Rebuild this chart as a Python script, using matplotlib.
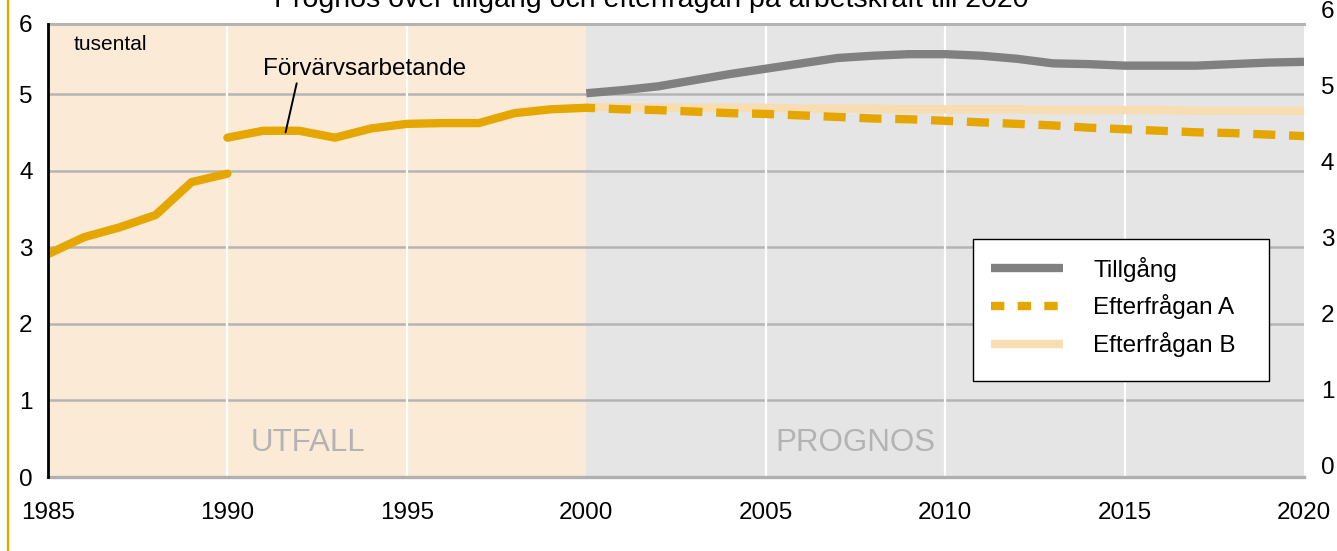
import matplotlib
matplotlib.use("Agg")
import matplotlib.pyplot as plt
from matplotlib.lines import Line2D
from matplotlib.patches import Rectangle

plt.rcParams['font.family'] = ['Liberation Sans', 'DejaVu Sans']

# ---- data (tusental) ----
years_hist1 = [1985, 1986, 1987, 1988, 1989, 1990]
forv_hist1 = [2.91, 3.13, 3.26, 3.42, 3.85, 3.96]
years_hist2 = [1990, 1991, 1992, 1993, 1994, 1995, 1996, 1997, 1998, 1999, 2000]
forv_hist2 = [4.43, 4.52, 4.52, 4.43, 4.55, 4.61, 4.62, 4.62, 4.75, 4.80, 4.82]
prog_years = list(range(2000, 2021))
tillgang = [5.01, 5.05, 5.10, 5.18, 5.26, 5.33, 5.40, 5.47, 5.50, 5.52, 5.52,
            5.50, 5.46, 5.40, 5.39, 5.37, 5.37, 5.37, 5.39, 5.41, 5.42]
efterfragan_a = [4.82, 4.80, 4.79, 4.77, 4.75, 4.74, 4.72, 4.70, 4.68, 4.67, 4.65,
                 4.63, 4.61, 4.59, 4.56, 4.54, 4.52, 4.50, 4.49, 4.47, 4.45]
efterfragan_b = [4.83, 4.83, 4.82, 4.82, 4.82, 4.82, 4.81, 4.81, 4.81, 4.80, 4.80,
                 4.80, 4.80, 4.79, 4.79, 4.79, 4.79, 4.78, 4.78, 4.78, 4.78]
x_ticks = [1985, 1990, 1995, 2000, 2005, 2010, 2015, 2020]
y_tick_labels = ['0', '1', '2', '3', '4', '5', '6']
legend_labels = ['Tillgång', 'Efterfrågan A', 'Efterfrågan B']
title = 'Prognos över tillgång och efterfrågan på arbetskraft till 2020'

ORANGE = '#E5A600'
LIGHT = '#F7DDB0'
GREY = '#808080'
BEIGE = '#FBEBD6'
BGGREY = '#E5E5E5'
GRID = '#B4B4B4'
FS = 17.5
LW = 6.0

W, H = 1337, 551
def fx(px):
    return px / W
def fy(py):
    return 1 - py / H

fig = plt.figure(figsize=(W / 100, H / 100), dpi=100)
ax = fig.add_axes([fx(48), fy(477), fx(1304) - fx(48), fy(24) - fy(477)])
YMAX = (477 - 24) / 76.6
ax.set_xlim(1985, 2020)
ax.set_ylim(0, YMAX)

ax.axvspan(1985, 2000, color=BEIGE, lw=0, zorder=0)
ax.axvspan(2000, 2020, color=BGGREY, lw=0, zorder=0)
for y in [1, 2, 3, 4, 5]:
    ax.axhline(y, color=GRID, lw=1.8, zorder=1)
for x in [1990, 1995, 2005, 2010, 2015]:
    ax.axvline(x, color='white', lw=1.6, zorder=1)

ax.spines['right'].set_visible(False)
ax.spines['top'].set_color(GRID)
ax.spines['top'].set_linewidth(2.2)
ax.spines['bottom'].set_color('#B0B0B0')
ax.spines['bottom'].set_linewidth(2.4)
ax.spines['left'].set_color('black')
ax.spines['left'].set_linewidth(2.0)
ax.spines['left'].set_zorder(6)

ax.set_xticks(x_ticks)
ax.set_xticklabels([str(v) for v in x_ticks])
ax.set_yticks([0, 1, 2, 3, 4, 5, YMAX])
ax.set_yticklabels(y_tick_labels)
ax.tick_params(axis='x', length=0, labelsize=FS, pad=18)
ax.tick_params(axis='y', length=0, labelsize=FS, pad=11)

# lines
ax.plot(years_hist1, forv_hist1, color=ORANGE, lw=LW, solid_capstyle='round',
        solid_joinstyle='round', zorder=4)
ax.plot(years_hist2, forv_hist2, color=ORANGE, lw=LW, solid_capstyle='round',
        solid_joinstyle='round', zorder=4)
ax.plot(prog_years, tillgang, color=GREY, lw=LW, solid_capstyle='butt', zorder=4)
ax.plot(prog_years, efterfragan_b, color=LIGHT, lw=LW, solid_capstyle='butt', zorder=3)
ax.plot(prog_years, efterfragan_a, color=ORANGE, lw=LW,
        linestyle=(1.6, (2.65, 1.65)), dash_capstyle='butt', zorder=4)

# texts
ax.text(1993.83, 5.32, 'Förvärvsarbetande', ha='center', va='center', fontsize=FS, zorder=5)
ax.annotate('', xy=(1991.62, 4.50), xytext=(1991.93, 5.14),
            arrowprops=dict(arrowstyle='-', color='black', lw=1.4, shrinkA=0, shrinkB=0),
            zorder=5)
ax.text(1992.23, 0.44, 'UTFALL', ha='center', va='center', fontsize=22.5, color='#B3B3B3')
ax.text(2007.5, 0.44, 'PROGNOS', ha='center', va='center', fontsize=22.5, color='#B3B3B3')
fig.text(fx(74), fy(45), 'tusental', ha='left', va='center', fontsize=15)
fig.text(fx(651), fy(7), title, ha='center', va='baseline', fontsize=20.5)

# legend
handles = [Line2D([], [], color=GREY, lw=LW, solid_capstyle='butt'),
           Line2D([], [], color=ORANGE, lw=LW, linestyle=(0, (1.6, 1.6)),
                  dash_capstyle='butt'),
           Line2D([], [], color=LIGHT, lw=LW, solid_capstyle='butt')]
ax.add_patch(Rectangle((0.7365, 0.2119), 0.9721 - 0.7365, 0.5254 - 0.2119,
                       transform=ax.transAxes, facecolor='white', edgecolor='black',
                       lw=1.0, zorder=7))
leg = ax.legend(handles, legend_labels, loc='upper left', bbox_to_anchor=(0.7508, 0.486),
                frameon=False, fontsize=FS, handlelength=72 / 24.3, handletextpad=30 / 24.3,
                labelspacing=0.52, borderpad=0, borderaxespad=0)
leg.set_zorder(8)

# right axis labels (shifted scale as in the original)
ax2 = fig.add_axes([fx(48), fy(465), fx(1304) - fx(48), fy(10) - fy(465)])
ax2.set_ylim(0, 6)
ax2.set_xlim(0, 1)
ax2.patch.set_visible(False)
for s in ax2.spines.values():
    s.set_visible(False)
ax2.set_xticks([])
ax2.yaxis.tick_right()
ax2.set_yticks(range(7))
ax2.set_yticklabels(y_tick_labels)
ax2.tick_params(axis='y', length=0, labelsize=FS, pad=12)

# orange frame line at left
fig.add_artist(Line2D([fx(8.3), fx(8.3)], [0, 1], transform=fig.transFigure,
                      color=ORANGE, lw=1.7))

fig.savefig('out.png', dpi=100)
